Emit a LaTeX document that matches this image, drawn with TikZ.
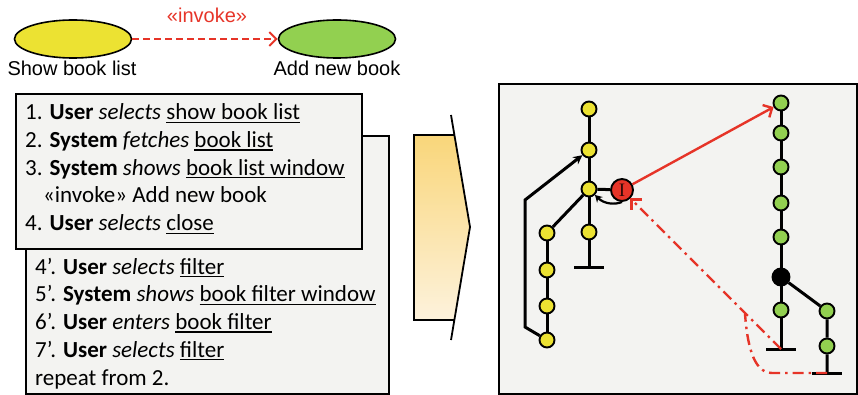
\documentclass[tikz,border=0pt]{standalone}
\usepackage{fontspec}
\setmainfont{Carlito}
\newfontfamily\bklabfont{Liberation Sans}
\newfontfamily\bkserif{Liberation Serif}
\usetikzlibrary{arrows.meta,shapes.geometric}
\definecolor{bkyel}{RGB}{236,226,50}
\definecolor{bkgrn}{RGB}{146,208,80}
\definecolor{bkred}{RGB}{230,52,40}
\definecolor{bkpanel}{RGB}{243,243,241}
\definecolor{bkshtop}{RGB}{249,214,122}
\definecolor{bkshbot}{RGB}{253,242,220}
\newcommand\bkul[1]{\setbox0\hbox{#1}\rlap{\rule[-3pt]{\wd0}{1.3pt}}\box0}

\tikzset{bkv/.style={circle,draw,line width=1.9pt,inner sep=0pt,minimum size=15pt},
         bkuc/.style={ellipse,draw,line width=1.6pt,minimum width=117pt,minimum height=38pt},
         bkbox/.style={draw,line width=1.8pt,fill=bkpanel,anchor=north west,inner sep=0pt},
         bkline/.style={line width=3pt},
         bkrd/.style={bkred,line width=2.4pt,-{Straight Barb[length=7pt,width=14pt]}},
         bkdd/.style={bkred,line width=2.4pt,dash pattern=on 11pt off 5pt on 2.5pt off 5pt},
         bklab/.style={font=\bklabfont\fontsize{20}{24}\selectfont},
         bktxt/.style={font=\fontsize{23}{28}\selectfont,anchor=base west,inner sep=0pt}}

\begin{document}
\begin{tikzpicture}[x=1pt,y=-1pt]
  \useasboundingbox (0,0) rectangle (858,395);

  % use cases
  \node[bkuc,fill=bkyel] (show) at (73,39) {};
  \node[bkuc,fill=bkgrn] (add) at (337,39) {};
  \node[bklab] (showlab) at (72,68) {Show book list};
  \node[bklab] (addlab) at (337,68) {Add new book};
  \node[bklab,text=bkred] (inv) at (207,15) {«invoke»};
  \draw[bkrd,line width=2pt,dash pattern=on 7pt off 4pt] (show) -- (add);

  % main flow and alternative flow
  \node[bkbox,minimum width=363pt,minimum height=258pt] (alt) at (25,135) {};
  \node[bkbox,minimum width=346pt,minimum height=155pt] (main) at (15,93) {};
  \foreach \x/\y/\t [count=\i] in {
      25/120/{1. \textbf{User} \textit{selects} \bkul{show book list}},
      25/147.7/{2. \textbf{System} \textit{fetches} \bkul{book list}},
      25/175.4/{3. \textbf{System} \textit{shows} \bkul{book list window}},
      43/203/{«invoke» Add new book},
      25/230.8/{4. \textbf{User} \textit{selects} \bkul{close}}}
    \node[bktxt] (m\i) at (\x,\y) {\t};
  \foreach \y/\t [count=\i] in {
      274/{4'. \textbf{User} \textit{selects} \bkul{filter}},
      301.8/{5'. \textbf{System} \textit{shows} \bkul{book filter window}},
      329.6/{6'. \textbf{User} \textit{enters} \bkul{book filter}},
      357.4/{7'. \textbf{User} \textit{selects} \bkul{filter}},
      385.2/{repeat from 2.}}
    \node[bktxt] (s\i) at (35,\y) {\t};

  % transformation arrow
  \shade[top color=bkshtop,bottom color=bkshbot]
    (414,135) -- (454.5,135) -- (470,227) -- (454.5,320) -- (414,320) -- cycle;
  \draw[line width=1.8pt] (454.5,135) -- (414,135) -- (414,320) -- (454.5,320);
  \draw[line width=1.8pt] (451,115) -- (470,227) -- (451,340);

  % flow graph
  \node[bkbox,minimum width=358pt,minimum height=310pt] (flow) at (498,83) {};
  \foreach \y [count=\n] in {109,150,189,232}
    \node[bkv,fill=bkyel] (a\n) at (589,\y) {};
  \foreach \y [count=\n] in {233,270,306,340}
    \node[bkv,fill=bkyel] (b\n) at (547,\y) {};
  \foreach \y [count=\n] in {103,133,167,203,237,310}
    \node[bkv,fill=bkgrn] (c\n) at (781,\y) {};
  \node[bkv,fill=bkgrn] (d1) at (827,311) {};
  \node[bkv,fill=bkgrn] (d2) at (827,346) {};
  \node[bkv,fill=black,minimum size=17pt] (k) at (781,277) {};
  \node[bkv,fill=bkred,minimum size=22pt,font=\bkserif\fontsize{19}{19}\selectfont,
        text=black!80!bkred] (inc) at (622,190) {I};
  \coordinate (ta) at (589,267);
  \coordinate (tc) at (781,349);
  \coordinate (td) at (827,373);
  \coordinate (lp1) at (525,327);
  \coordinate (lp2) at (525,200);
  \coordinate (mg) at (745,314);

  \draw[bkline] (a1) -- (a2) -- (a3) -- (a4) -- (ta);
  \draw[bkline] (b1) -- (b2) -- (b3) -- (b4);
  \draw[bkline] (a3) -- (b1);
  \draw[bkline] (a3) -- (inc);
  \draw[bkline] (c1) -- (c2) -- (c3) -- (c4) -- (c5) -- (k) -- (c6) -- (tc);
  \draw[bkline] (k) -- (d1) -- (d2) -- (td);
  \foreach \t in {ta,tc,td}
    \draw[bkline] ([xshift=-15pt]\t) -- ([xshift=15pt]\t);
  \draw[bkline,-{Stealth[length=9pt,width=9pt]}] (b4) -- (lp1) -- (lp2) -- (a2);
  \draw[line width=2.2pt,-{Stealth[length=7pt,width=8pt]}]
    (inc.south) .. controls (615,205) and (604,204) .. (a3.south east);

  \draw[bkrd] (inc) -- (c1);
  \draw[bkdd,-{Straight Barb[length=7pt,width=14pt]}] (tc) -- (inc);
  \draw[bkdd] (td) -- (772,373) .. controls (752,373) and (747,340) .. (mg);
\end{tikzpicture}
\end{document}
